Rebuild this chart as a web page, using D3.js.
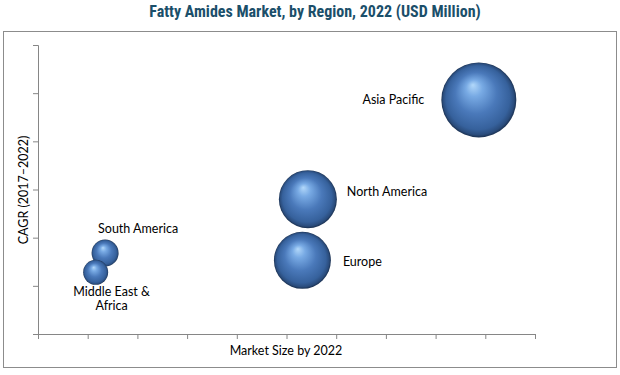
<!DOCTYPE html>
<html><head><meta charset="utf-8">
<script src="https://cdn.jsdelivr.net/npm/d3@7/dist/d3.min.js"></script>
<style>
body{margin:0;background:#fff;}
svg{display:block;}
.lbl{font-family:Lato,"Open Sans",sans-serif;font-size:12.5px;fill:#000;}
</style></head>
<body><svg id="c" width="620" height="375"></svg>
<script>
const regions = ["Asia Pacific","North America","Europe","South America","Middle East & Africa"];
const marketSize = [8.87, 5.43, 5.32, 1.35, 1.16];
const cagr = [4.86, 2.80, 1.53, 1.68, 1.28];
const bubbleSize = [1406, 841, 812, 182, 156];
const xTicks = d3.range(0, 11, 1);
const yTicks = d3.range(0, 7, 1);
const titleText = "Fatty Amides Market, by Region, 2022 (USD Million)";
const xTitle = "Market Size by 2022";
const yTitle = "CAGR (2017\u20132022)";

const svg = d3.select("#c");
const defs = svg.append("defs");
const g = defs.append("radialGradient").attr("id","ball")
  .attr("cx","0.5").attr("cy","0.5").attr("r","0.5").attr("fx","0.42").attr("fy","0.3");
[[0,"#b2d8fa"],[0.22,"#78aae4"],[0.55,"#4a79ba"],[0.85,"#36619c"],[0.95,"#2a4c7c"],[1,"#1a3050"]]
  .forEach(([o,c])=>g.append("stop").attr("offset",o).attr("stop-color",c));

svg.append("rect").attr("x",3.5).attr("y",31.5).attr("width",613).attr("height",336)
  .attr("fill","none").attr("stroke","#8c8c8c");

svg.append("text").attr("x",315).attr("y",17).attr("text-anchor","middle")
  .style("font-family","'Liberation Sans Narrow','Roboto Condensed',sans-serif")
  .style("font-size","16px").style("font-weight","bold").style("fill","#1b4f6a")
  .text(titleText);

const x = d3.scaleLinear().domain([0,10]).range([38,535]);
const y = d3.scaleLinear().domain([0,6]).range([334,45]);
const r = d3.scaleSqrt().domain([0,1406]).range([0,37.5]);

const xa = svg.append("g").attr("transform","translate(0,334)")
  .call(d3.axisBottom(x).tickValues(xTicks).tickSize(5).tickFormat(""));
const ya = svg.append("g").attr("transform","translate(38,0)")
  .call(d3.axisLeft(y).tickValues(yTicks).tickSize(5).tickFormat(""));
[xa,ya].forEach(a=>{a.select(".domain").attr("stroke","#868686");a.selectAll(".tick line").attr("stroke","#868686");});

svg.append("text").attr("class","lbl").attr("x",286).attr("y",355).attr("text-anchor","middle").text(xTitle);
svg.append("text").attr("class","lbl").attr("transform","translate(28,190) rotate(-90)").attr("text-anchor","middle").text(yTitle);

const data = regions.map((n,i)=>({n,x:marketSize[i],y:cagr[i],s:bubbleSize[i]}));
svg.append("g").selectAll("circle").data(data).join("circle")
  .attr("cx",d=>x(d.x)).attr("cy",d=>y(d.y)).attr("r",d=>r(d.s))
  .attr("fill","url(#ball)");

// label placement: [side, dx, dy]
const labelPlace = [["left",-17,4],["right",10,-3],["right",12,6],["top",33,-7],["bottom",16,11]];
data.forEach((d,i)=>{
  const [side,dx,dy]=labelPlace[i];
  const cx=x(d.x), cy=y(d.y), rr=r(d.s);
  const t=svg.append("text").attr("class","lbl");
  if(side==="left"){t.attr("x",cx-rr+dx).attr("y",cy+dy).attr("text-anchor","end").text(d.n);}
  else if(side==="right"){t.attr("x",cx+rr+dx).attr("y",cy+dy).attr("text-anchor","start").text(d.n);}
  else if(side==="top"){t.attr("x",cx+dx).attr("y",cy-rr+dy).attr("text-anchor","middle").text(d.n);}
  else {
    const parts=["Middle East &","Africa"];
    t.attr("text-anchor","middle");
    parts.forEach((p,k)=>t.append("tspan").attr("x",cx+dx).attr("y",cy+rr+dy+k*14).text(p));
  }
});
</script></body></html>
